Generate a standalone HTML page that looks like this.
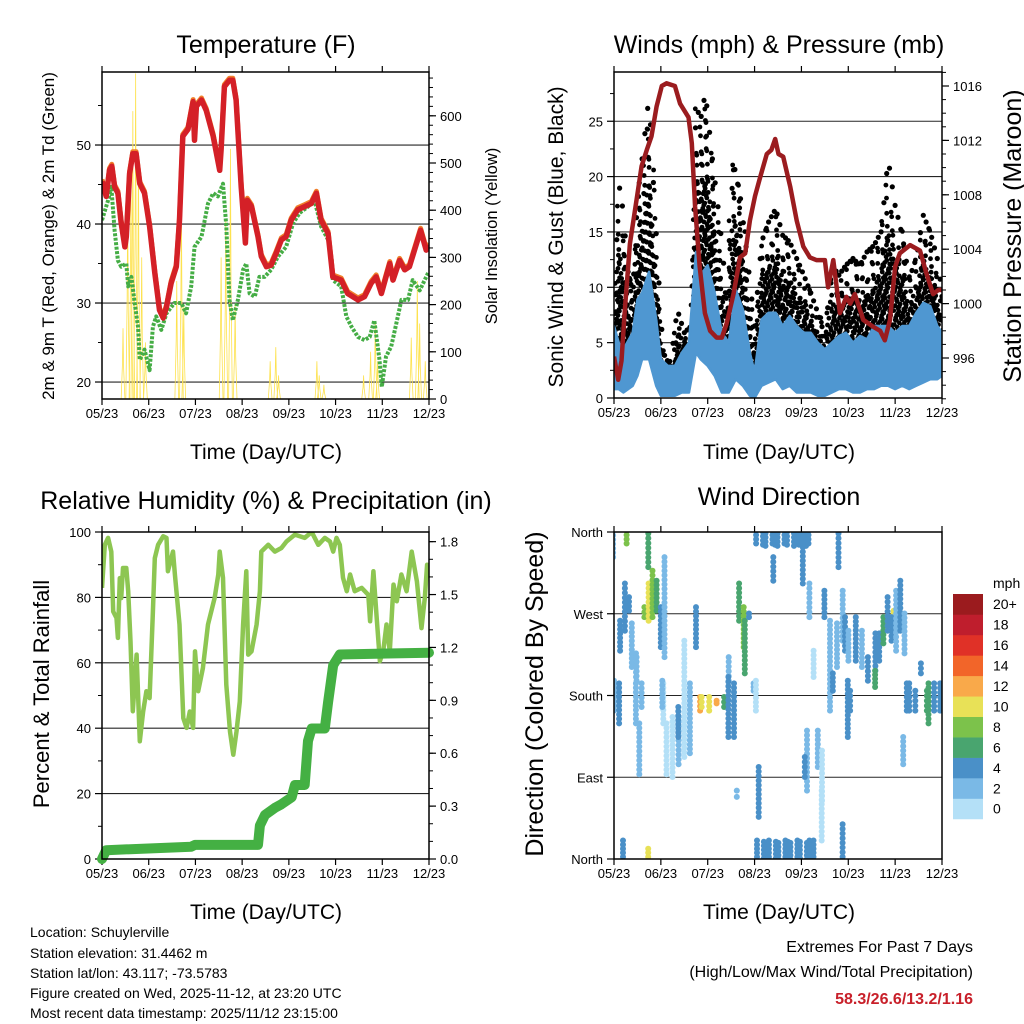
<!DOCTYPE html>
<html><head><meta charset="utf-8"><style>
html,body{margin:0;padding:0;background:#fff}
svg{display:block;font-family:"Liberation Sans",Arial,sans-serif}
</style></head><body>
<svg id="fig" width="1024" height="1024" viewBox="0 0 1024 1024" xmlns="http://www.w3.org/2000/svg">
<defs>
<clipPath id="c1"><rect x="102" y="72" width="327" height="327"/></clipPath>
<clipPath id="c2"><rect x="614" y="72" width="328" height="326"/></clipPath>
<clipPath id="c3"><rect x="102" y="532" width="327" height="327"/></clipPath>
<clipPath id="c4"><rect x="614" y="532" width="328" height="327"/></clipPath>
</defs>
<rect width="1024" height="1024" fill="#fff"/>
<text x="266" y="53" font-size="25" text-anchor="middle">Temperature (F)</text>
<text x="779" y="53" font-size="25" text-anchor="middle">Winds (mph) &amp; Pressure (mb)</text>
<text x="266" y="509" font-size="25" text-anchor="middle">Relative Humidity (%) &amp; Precipitation (in)</text>
<text x="779" y="505" font-size="25" text-anchor="middle">Wind Direction</text>
<text transform="translate(54,236) rotate(-90)" font-size="17" text-anchor="middle">2m &amp; 9m T (Red, Orange) &amp; 2m Td (Green)</text>
<text transform="translate(497,236) rotate(-90)" font-size="16.5" text-anchor="middle">Solar Insolation (Yellow)</text>
<text transform="translate(563,237) rotate(-90)" font-size="21" text-anchor="middle">Sonic Wind &amp; Gust (Blue, Black)</text>
<text transform="translate(1021,236) rotate(-90)" font-size="25" text-anchor="middle">Station Pressure (Maroon)</text>
<text transform="translate(49,694) rotate(-90)" font-size="22" text-anchor="middle">Percent &amp; Total Rainfall</text>
<text transform="translate(543,694) rotate(-90)" font-size="25" text-anchor="middle">Direction (Colored By Speed)</text>
<text x="266" y="459" font-size="21" text-anchor="middle">Time (Day/UTC)</text>
<text x="779" y="459" font-size="21" text-anchor="middle">Time (Day/UTC)</text>
<text x="266" y="919" font-size="21" text-anchor="middle">Time (Day/UTC)</text>
<text x="779" y="919" font-size="21" text-anchor="middle">Time (Day/UTC)</text>
<g font-size="14">
<text x="30" y="937">Location: Schuylerville</text>
<text x="30" y="958">Station elevation: 31.4462 m</text>
<text x="30" y="978">Station lat/lon: 43.117; -73.5783</text>
<text x="30" y="998">Figure created on Wed, 2025-11-12, at 23:20 UTC</text>
<text x="30" y="1018">Most recent data timestamp: 2025/11/12 23:15:00</text>
</g>
<g text-anchor="end">
<text x="973" y="952" font-size="16">Extremes For Past 7 Days</text>
<text x="973" y="977" font-size="16">(High/Low/Max Wind/Total Precipitation)</text>
<text x="973" y="1004" font-size="16" font-weight="bold" fill="#c8202a">58.3/26.6/13.2/1.16</text>
</g>
<g id="plots"></g>
</svg>
<script>
// ---- shared axis data ----
const monthTicks = ["05/23","06/23","07/23","08/23","09/23","10/23","11/23","12/23"];
// ---- temperature panel ----
const tempTime = [0,.09,.16,.21,.27,.34,.41,.49,.52,.59,.66,.73,.81,.91,1.02,1.13,1.23,1.31,1.38,1.48,1.59,1.66,1.73,1.84,1.95,1.98,2.02,2.13,2.23,2.38,2.52,2.55,2.62,2.73,2.80,2.87,2.98,3.07,3.11,3.20,3.34,3.41,3.52,3.62,3.73,3.84,3.94,4.05,4.19,4.34,4.48,4.59,4.69,4.84,4.94,5.12,5.26,5.48,5.62,5.76,5.87,5.98,6.08,6.16,6.23,6.37,6.48,6.58,6.69,6.82,6.94,7.0];
const tempRed = [45.4,43.5,46.8,47.3,44.7,43.9,40.1,37.1,38.4,46.4,48.9,48.9,45.1,43.9,39.7,33.8,29.1,28.1,29.5,32.5,34.6,40.5,51.1,52.0,55.5,50.6,54.9,55.7,54.4,51.1,46.8,49.4,57.4,58.2,58.2,55.7,44.7,37.6,43.0,42.2,38.4,35.9,34.6,34.8,36.3,38.0,38.4,40.5,41.8,42.2,42.6,43.9,40.5,38.8,33.3,32.9,31.2,30.4,30.8,32.5,33.3,31.2,33.3,35.0,32.9,35.4,34.2,34.6,36.7,39.2,36.7,37.3];
const dewTime = [0,.13,.2,.27,.34,.41,.52,.56,.63,.70,.77,.81,.91,1.02,1.09,1.16,1.27,1.38,1.55,1.70,1.80,1.91,1.98,2.13,2.27,2.38,2.48,2.59,2.66,2.73,2.80,2.91,3.02,3.09,3.16,3.27,3.37,3.48,3.62,3.77,3.94,4.09,4.23,4.41,4.55,4.69,4.84,4.92,4.94,5.12,5.23,5.34,5.48,5.62,5.73,5.83,5.94,5.99,6.08,6.19,6.30,6.41,6.55,6.65,6.80,6.98];
const dewGreen = [40.5,43.0,44.7,39.2,35.4,34.6,35.0,32.1,33.3,30.0,27.0,22.8,24.1,21.5,27.0,28.3,26.6,28.7,30.0,30.0,28.7,32.1,37.1,38.4,42.6,43.9,43.5,45.1,39.7,30.4,27.8,30.4,34.2,35.0,31.2,30.8,33.3,33.3,34.2,35.9,37.1,40.1,41.4,42.2,43.0,39.7,38.0,35.4,32.9,32.1,28.3,27.0,25.7,25.3,25.7,27.8,22.8,19.4,23.2,24.5,27.4,30.4,30.4,32.9,31.6,33.8];
const solarPeakTime = [0.45,0.55,0.62,0.66,0.72,0.78,0.85,0.93,1.6,1.7,1.75,2.55,2.65,2.75,2.85,3.6,3.72,3.78,4.6,4.65,4.75,5.6,5.75,5.85,5.9,6.62,6.75,6.8,6.92];
const solarPeakValue = [150,420,480,610,690,520,300,120,250,420,200,300,380,530,200,80,110,50,80,50,30,50,100,160,80,130,250,160,80];
const tempTicks = [20,30,40,50];
const solarTicks = [0,100,200,300,400,500,600];
// ---- winds panel ----
const presTime = [0,.09,.16,.23,.34,.48,.59,.70,.80,.91,1.02,1.12,1.30,1.41,1.59,1.66,1.73,1.83,1.94,2.05,2.19,2.30,2.40,2.55,2.69,2.80,2.90,3.01,3.12,3.26,3.36,3.44,3.51,3.61,3.76,3.90,4.04,4.18,4.32,4.50,4.57,4.68,4.82,4.96,5.04,5.14,5.32,5.53,5.68,5.78,5.89,6.00,6.10,6.32,6.53,6.67,6.81,6.92,7.0];
const presValue = [996.1,994.4,995.8,999.5,1004.4,1007.6,1010.1,1011.3,1012.3,1014.5,1016.0,1016.2,1016.0,1014.7,1013.7,1011.8,1007.1,1002.7,999.3,998.0,997.5,997.5,998.5,1000.7,1003.4,1003.7,1006.1,1007.9,1009.3,1011.0,1011.3,1012.1,1011.0,1010.8,1008.6,1006.1,1004.2,1003.4,1003.2,1003.2,1001.2,1003.2,999.3,1000.5,1000.0,1000.7,998.8,998.3,998.0,997.3,998.8,1002.7,1003.7,1004.3,1003.9,1002.2,1000.7,1001.0,1001.0];
const windTime = [0,.1,.2,.4,.5,.6,.75,.9,1.0,1.15,1.3,1.45,1.6,1.75,1.85,2.0,2.15,2.3,2.45,2.6,2.75,2.9,3.0,3.15,3.3,3.45,3.6,3.75,3.9,4.05,4.2,4.35,4.5,4.65,4.8,4.95,5.1,5.25,5.4,5.55,5.7,5.85,6.0,6.15,6.3,6.45,6.6,6.75,6.9,7.0];
const windHigh = [6.5,5.0,4.4,5.9,8.9,9.5,11.4,7.1,3.5,2.9,2.9,4.1,5.0,13.2,11.1,12.0,9.5,5.9,5.0,9.8,8.0,4.1,2.3,7.1,7.7,7.7,6.5,7.4,6.5,5.9,5.9,5.0,4.4,5.0,5.6,5.9,5.0,5.6,5.3,6.5,6.5,6.5,5.9,6.5,6.5,7.7,8.6,8.3,6.5,5.9];
const windLow = [0.8,0.8,0.5,1.1,2.0,3.5,3.5,1.1,0.2,0.2,0.2,0.5,0.5,4.1,3.5,2.9,2.0,0.5,0.5,1.7,1.1,0.2,0,1.1,1.4,1.7,0.8,1.1,0.5,0.5,0.5,0.2,0.2,0.5,0.8,0.8,0.5,0.5,0.8,0.8,1.1,1.1,0.8,1.1,0.8,1.1,1.4,1.7,1.7,2.0];
const gustTime = [0,.1,.2,.3,.4,.5,.6,.75,.85,.95,1.05,1.2,1.35,1.5,1.65,1.75,1.85,1.95,2.1,2.25,2.4,2.55,2.7,2.85,3.0,3.15,3.3,3.45,3.6,3.75,3.9,4.05,4.2,4.35,4.5,4.65,4.8,4.95,5.1,5.25,5.4,5.55,5.7,5.85,6.0,6.15,6.3,6.45,6.6,6.75,6.9,7.0];
const gustMax = [6.5,19.5,16.8,11.4,9.5,18.0,21.6,27.3,18.6,11.1,4.1,2.9,8.0,5.9,6.5,26.4,25.2,27.6,21.6,16.2,9.5,21.3,18.0,12.6,6.5,14.1,15.9,17.1,14.7,14.1,12.6,11.1,9.5,7.7,5.6,12.0,11.1,12.0,12.6,12.0,13.2,13.8,15.0,21.6,17.4,14.7,10.8,12.6,16.5,15.0,12.6,9.5];
const windTicks = [0,5,10,15,20,25];
const presTicks = [996,1000,1004,1008,1012,1016];
// ---- humidity panel ----
const rhTime = [0,.06,.13,.2,.24,.31,.34,.38,.41,.45,.52,.56,.61,.66,.74,.81,.88,.95,1.02,1.09,1.13,1.2,1.31,1.38,1.41,1.52,1.56,1.66,1.74,1.81,1.88,1.95,1.99,2.06,2.16,2.27,2.41,2.49,2.52,2.59,2.66,2.74,2.81,2.88,2.95,3.02,3.09,3.13,3.2,3.31,3.38,3.41,3.56,3.7,3.84,3.95,4.13,4.34,4.49,4.63,4.77,4.88,4.95,5.02,5.09,5.16,5.24,5.31,5.41,5.56,5.7,5.74,5.81,5.88,5.95,6.02,6.09,6.16,6.24,6.31,6.41,6.52,6.63,6.74,6.84,6.91,6.96,7.0];
const rhValue = [82.9,96.1,98.2,94,75.7,73.7,67.6,85.9,79.8,89,89,81.9,66.6,45.2,62.5,36,45,51.3,49.2,75.7,92,96.1,98.7,98.2,88,94,87,71.7,43.1,40.1,45.1,40.1,63.5,51.3,58.4,71.7,79.8,87,94,86,53.3,39,31.9,39,48.2,71.7,88,62.5,63.5,71.7,81.9,94,96.1,94,95.1,97.1,99.2,98.2,100,96.1,98.2,97.1,94,98.2,96.1,86,81.9,87,81.9,82.9,80.8,72.7,88,73.7,60.5,63.5,71.7,63.5,83.9,78.8,87,81.9,94,84.9,70.6,79.8,90,87];
const precipTime = [0,.09,1.91,1.99,3.34,3.38,3.49,3.7,3.84,4.06,4.13,4.34,4.41,4.49,4.77,4.84,4.95,5.09,7.0];
const precipValue = [0,.05,.07,.08,.08,.19,.25,.29,.31,.35,.42,.42,.67,.74,.74,.89,1.10,1.16,1.17];
const rhTicks = [0,20,40,60,80,100];
const precipTicks = ["0.0","0.3","0.6","0.9","1.2","1.5","1.8"];
// ---- wind direction panel (streaks of observations) ----
const streakTime = [.02,.02,.13,.09,.23,.27,.34,.38,.45,.43,.52,.56,.59,.63,.70,.77,.84,.91,.98,1.04,1.09,1.05,1.12,1.23,1.34,1.41,1.52,1.62,1.73,1.80,1.91,2.05,2.19,2.33,2.41,2.48,2.58,2.62,2.65,2.73,2.83,2.90,2.98,3.01,3.05,3.62,3.62,3.40,4.01,4.08,4.11,4.19,4.26,4.33,4.40,4.47,4.51,4.61,4.65,4.72,4.83,4.90,4.93,4.97,5.0,5.04,5.18,5.29,5.40,5.54,5.61,5.68,5.75,5.82,5.93,5.96,6.04,6.11,6.18,6.21,6.21,6.32,6.43,6.53,6.64,6.75,6.85,6.96,4.86,4.22,.23,.75];
const streakDirA = [331,162,228,192,346,302,287,258,225,192,221,148,192,276,302,320,316,305,276,331,192,195,148,155,155,166,239,192,276,177,177,177,173,177,221,199,192,74,302,276,261,269,192,195,100,346,19,331,302,140,111,302,228,140,118,74,294,261,203,258,357,294,265,195,184,250,265,250,221,247,206,247,265,287,272,265,294,305,269,192,133,192,184,214,184,192,192,192,37,19,19,10];
const streakDirB = [360,195,261,148,360,250,272,210,199,148,195,92,166,265,261,357,265,272,232,221,148,166,92,89,103,133,111,115,232,162,166,162,170,166,195,133,133,67,261,232,203,265,184,162,45,360,1,305,357,74,89,265,199,100,63,19,265,162,184,210,320,239,228,133,162,217,217,210,195,206,188,217,236,250,269,239,228,250,225,162,103,162,162,203,162,148,162,162,1,1,1,1];
const streakSpeed = [3,3,4,4,8,4,4,2,2,2,2,2,2,8,10,6,8,6,4,2,1,2,1,1,2,4,1,2,4,12,10,10,12,6,2,4,4,3,6,8,6,4,2,1,5,5,5,4,4,2,4,2,1,2,1,1,4,2,4,3,4,2,4,4,4,2,4,3,4,4,6,4,6,4,10,4,3,4,2,4,3,4,4,4,6,6,5,4,4,4,4,10];
const streakSpread = [0,0,0,0,.05,0,0,0,0,0,0,0,0,.06,.05,.05,.06,.05,0,0,0,0,.05,.05,.05,0,0,.06,0,.07,.1,.1,.08,.06,0,0,0,0,.04,.06,.06,0,0,0,0,1.1,1.1,0,.04,0,0,0,0,0,0,0,0,0,0,0,0,0,0,0,0,0,.05,.04,.05,.05,.06,.05,.05,.04,0,.04,.04,.04,0,.08,0,.08,.1,0,.1,.1,.08,.06,.06,.06,0,0];
const speedLabels = ["0","2","4","6","8","10","12","14","16","18","20+"];
const speedColors = ["#b4e0f7","#7ab9e6","#4a90c8","#49a56f","#7cc24b","#e8e157","#f9a94a","#f26529","#e03127","#bf1e2d","#9b1b1e"];
const dirLabels = ["North","East","South","West","North"];
const dirTicks = [0,90,180,270,360];

// ---------- rendering ----------
const NS = "http://www.w3.org/2000/svg";
const root = document.getElementById("plots");
function mk(tag, attrs, parent){ const e=document.createElementNS(NS,tag); for(const k in attrs) e.setAttribute(k,attrs[k]); (parent||root).appendChild(e); return e; }
function interp(ts, vs, t){ if(t<=ts[0]) return vs[0]; for(let i=1;i<ts.length;i++){ if(t<=ts[i]){ const f=(t-ts[i-1])/(ts[i]-ts[i-1]); return vs[i-1]+f*(vs[i]-vs[i-1]); } } return vs[vs.length-1]; }
function panel(x0,x1,y0,y1){ return { x0,x1,y0,y1, x:m=>x0+(x1-x0)*m/7 }; }
const P1=panel(102,429,72,399), P2=panel(614,942,72,398), P3=panel(102,429,532,859), P4=panel(614,942,532,859);
const yTemp=v=>399-(v-17.85)*7.9, ySolar=v=>399-v*0.472;
const yWind=v=>398-v*11.07, yPres=v=>358-(v-996)*13.6;
const yRH=v=>859-v*3.27, yPrec=v=>859-v*176.3;
const yDir=v=>859-v/360*327;

function pathD(ts, vs, P, fy, dy){ return ts.map((t,i)=>(i?"L":"M")+P.x(t).toFixed(1)+","+(fy(vs[i])+(dy||0)).toFixed(1)).join(""); }

function frame(P, name){
  const g=mk("g",{});
  
  
  monthTicks.forEach((lab,i)=>{
    const x=P.x(i);
    mk("line",{x1:x,x2:x,y1:P.y1,y2:P.y1+6,stroke:"#000","stroke-width":1.2},g);
    mk("line",{x1:x,x2:x,y1:P.y0,y2:P.y0-6,stroke:"#000","stroke-width":1.2},g);
    const t=mk("text",{x:x,y:P.y1+19,"font-size":13,"text-anchor":"middle"},g); t.textContent=lab;
    
    
  });
  return g;
}
function border(P){ const r=mk("rect",{x:P.x0,y:P.y0,width:P.x1-P.x0,height:P.y1-P.y0,fill:"none",stroke:"#000","stroke-width":1.5});
  
   }
function grid(P, vals, fy){ vals.forEach(v=>{ const y=fy(v); const l=mk("line",{x1:P.x0,x2:P.x1,y1:y,y2:y,stroke:"#000","stroke-width":1.1,opacity:.85});
  
   }); }
function yAxis(P, side, vals, fy, labels, minorVals, name){
  const g=mk("g",{});
  
  
  const xe = side==="left"?P.x0:P.x1, d = side==="left"?-1:1;
  (minorVals||[]).forEach(v=>{ const y=fy(v); mk("line",{x1:xe,x2:xe+d*4,y1:y,y2:y,stroke:"#000","stroke-width":1},g); });
  vals.forEach((v,i)=>{ const y=fy(v);
    mk("line",{x1:xe,x2:xe+d*7,y1:y,y2:y,stroke:"#000","stroke-width":1.2},g);
    const t=mk("text",{x:xe+d*11,y:y+5,"font-size":13,"text-anchor":side==="left"?"end":"start"},g);
    t.textContent=labels?labels[i]:String(v);
    
    
  });
}
function range(a,b,s){ const r=[]; for(let v=a; v<=b+1e-9; v+=s) r.push(+v.toFixed(3)); return r; }

// ===== Panel 1: temperature =====
frame(P1,"temperature");
grid(P1,tempTicks,yTemp);
yAxis(P1,"left",tempTicks,yTemp,null,[25,35,45,55],"temperature-left-axis");
yAxis(P1,"right",solarTicks,ySolar,null,range(0,680,20),"solar-right-axis");
{
  const g=mk("g",{"clip-path":"url(#c1)"});
  
  
  solarPeakTime.forEach((t,i)=>{
    const p=mk("path",{d:"M"+P1.x(t-0.04)+","+ySolar(0)+"L"+P1.x(t-0.012)+","+ySolar(solarPeakValue[i]*0.5)+"L"+P1.x(t)+","+ySolar(solarPeakValue[i])+"L"+P1.x(t+0.012)+","+ySolar(solarPeakValue[i]*0.45)+"L"+P1.x(t+0.04)+","+ySolar(0),fill:"none",stroke:"#fde24f","stroke-width":0.8},g);
    
    
  });
  const dp=mk("path",{d:pathD(dewTime,dewGreen,P1,yTemp),fill:"none",stroke:"#45ad45","stroke-width":4,"stroke-dasharray":"3,1.5","stroke-linejoin":"round"},g);
  
  
  const op=mk("path",{d:pathD(tempTime,tempRed,P1,yTemp,-2),fill:"none",stroke:"#f07f2a","stroke-width":5,"stroke-linejoin":"round"},g);
  
  
  const rp=mk("path",{d:pathD(tempTime,tempRed,P1,yTemp),fill:"none",stroke:"#d42027","stroke-width":5.5,"stroke-linejoin":"round"},g);
  
  
}
border(P1);

// ===== Panel 2: winds & pressure =====
frame(P2,"winds");
grid(P2,[5,10,15,20,25],yWind);
yAxis(P2,"left",windTicks,yWind,null,[2.5,7.5,12.5,17.5,22.5,27.5],"wind-left-axis");
yAxis(P2,"right",presTicks,yPres,null,range(993,1017,1),"pressure-right-axis");
{
  const g=mk("g",{"clip-path":"url(#c2)"});
  
  
  const gd=mk("g",{fill:"#000"},g);
  
  
  let ci=0;
  for(let t=0;t<=7.001;t+=0.03,ci++){
    const up=interp(windTime,windHigh,t), mx=interp(gustTime,gustMax,t);
    const lo=up*0.75;
    const off=((ci*0.618)%1)*0.85;
    let j=0;
    for(let v=lo+off; v<=mx; v+=0.85, j++){
      const frac=(v-lo)/Math.max(0.1,mx-lo);
      if(frac>0.6 && (ci+j)%3!==0) continue;
      if(frac>0.82 && (ci*3+j)%2!==0) continue;
      const jx=(((ci*7+j*13)%5)-2)*0.8;
      mk("circle",{cx:(P2.x(t)+jx).toFixed(1),cy:yWind(v).toFixed(1),r:2.4},gd);
    }
    if(ci%2===0) mk("circle",{cx:P2.x(t).toFixed(1),cy:yWind(mx).toFixed(1),r:2.6},gd);
  }
  let d="M"+windTime.map((t,i)=>P2.x(t).toFixed(1)+","+yWind(windHigh[i]).toFixed(1)).join("L");
  for(let i=windTime.length-1;i>=0;i--) d+="L"+P2.x(windTime[i]).toFixed(1)+","+yWind(windLow[i]).toFixed(1);
  const wb=mk("path",{d:d+"Z",fill:"#4f97d1",stroke:"#4f97d1","stroke-width":2.5,"stroke-linejoin":"round"},g);
  
  
  const pp=mk("path",{d:pathD(presTime,presValue,P2,yPres),fill:"none",stroke:"#9b1c1f","stroke-width":4.5,"stroke-linejoin":"round"},g);
  
  
}
border(P2);

// ===== Panel 3: RH & precip =====
frame(P3,"humidity");
grid(P3,[20,40,60,80],yRH);
yAxis(P3,"left",rhTicks,yRH,null,[10,30,50,70,90],"humidity-left-axis");
yAxis(P3,"right",precipTicks.map(Number),yPrec,precipTicks,range(0,1.8,0.1),"precip-right-axis");
{
  const g=mk("g",{"clip-path":"url(#c3)"});
  
  
  const rl=mk("path",{d:pathD(rhTime,rhValue,P3,yRH),fill:"none",stroke:"#8dc652","stroke-width":4.5,"stroke-linejoin":"round"},g);
  
  
}
{
  const pl=mk("path",{d:pathD(precipTime,precipValue,P3,yPrec),fill:"none",stroke:"#44b043","stroke-width":10,"stroke-linejoin":"round","stroke-linecap":"round"});
  
  
}
border(P3);

// ===== Panel 4: wind direction =====
frame(P4,"direction");
grid(P4,[90,180,270],yDir);
yAxis(P4,"left",dirTicks,yDir,dirLabels,[],"direction-left-axis");
{
  const g=mk("g",{"clip-path":"url(#c4)"});
  
  
  streakTime.forEach((t,i)=>{
    const col=speedColors[Math.min(10,Math.floor(streakSpeed[i]/2))];
    const ya=yDir(streakDirA[i]), yb=yDir(streakDirB[i]);
    const n=Math.max(1,Math.round(Math.abs(yb-ya)/4.5));
    const sp=streakSpread[i];
    const cols=Math.max(1,Math.round(sp*46.9/4));
    for(let c=0;c<cols;c++){
      const tt=cols>1? t-sp/2+sp*c/(cols-1) : t;
      for(let k=0;k<=n;k++){
        const y=ya+(yb-ya)*k/n;
        const jx=(((k*5+c*3+i)%5)-2)*0.9;
        const jy=(((k*3+c*7)%3)-1)*1.2;
        mk("circle",{cx:(P4.x(tt)+jx).toFixed(1),cy:(y+jy).toFixed(1),r:3,fill:col},g);
      }
    }
  });
}
border(P4);

// colorbar
{
  const g=mk("g",{});
  
  
  const t=mk("text",{x:993,y:588,"font-size":14},g); t.textContent="mph";
  const h=20.45;
  speedLabels.forEach((lab,i)=>{
    const y=594+(10-i)*h;
    const r=mk("rect",{x:953,y:y,width:30,height:h+0.3,fill:speedColors[i]},g);
    
    
    const tx=mk("text",{x:993,y:y+h/2+5,"font-size":14},g); tx.textContent=lab;
    
    
  });
}
</script>
</body></html>
